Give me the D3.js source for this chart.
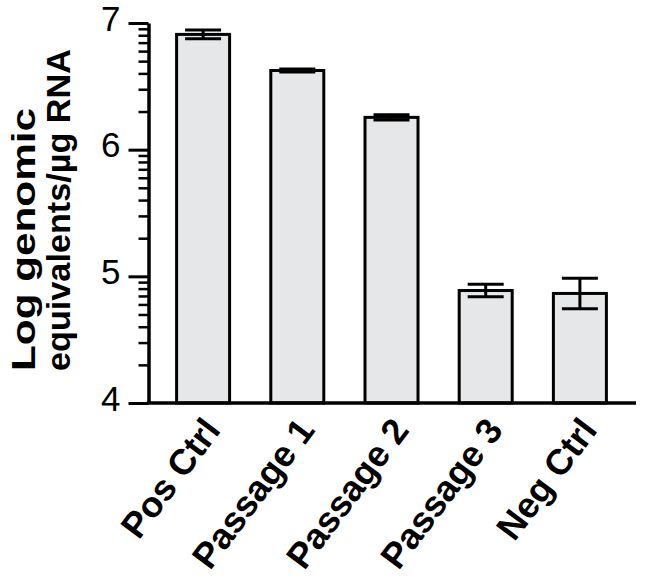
<!DOCTYPE html>
<html>
<head>
<meta charset="utf-8">
<script src="https://cdn.jsdelivr.net/npm/d3@7"></script>
<style>
  html, body { margin: 0; padding: 0; background: #fff; }
  svg { display: block; font-family: "Liberation Sans", Arial, Helvetica, sans-serif; }
</style>
</head>
<body>
<svg id="chart" width="645" height="584"></svg>
<script>
const categories = ["Pos Ctrl", "Passage 1", "Passage 2", "Passage 3", "Neg Ctrl"];
const meanValues = [6.91, 6.625, 6.255, 4.888, 4.865];
const errorValues = [0.035, 0.012, 0.02, 0.05, 0.12];
const yTickValues = [4, 5, 6, 7];
const yTitleLines = ["Log genomic", "equivalents/\u00b5g RNA"];

const svg = d3.select("#chart");
const axisX = 148.5, axisY = 403, yTop = 23, xRight = 636;

const y = d3.scaleLinear().domain([4, 7]).range([axisY, yTop]);
const x = d3.scaleBand().domain(categories).range([156, 627]).paddingInner(0.405).paddingOuter(0.2025);

// minor log ticks
const minorTicks = [];
for (let d = 4; d < 7; d++) for (let k = 2; k <= 9; k++) minorTicks.push(d + Math.log10(k));

const g = svg.append("g");

// bars
const barW = 53;
g.selectAll("rect.bar").data(categories).join("rect")
  .attr("class", "bar")
  .attr("x", d => x(d) + x.bandwidth() / 2 - barW / 2)
  .attr("y", (d, i) => y(meanValues[i]))
  .attr("width", barW)
  .attr("height", (d, i) => axisY - y(meanValues[i]))
  .attr("fill", "#e6e7e8")
  .attr("stroke", "#000")
  .attr("stroke-width", 3);

// error bars
const capW = 36;
categories.forEach((c, i) => {
  const cx = x(c) + x.bandwidth() / 2;
  const hi = y(meanValues[i] + errorValues[i]);
  const lo = y(meanValues[i] - errorValues[i]);
  g.append("line").attr("x1", cx).attr("x2", cx).attr("y1", hi).attr("y2", lo)
    .attr("stroke", "#000").attr("stroke-width", 3);
  [hi, lo].forEach(yy => g.append("line").attr("x1", cx - capW / 2).attr("x2", cx + capW / 2)
    .attr("y1", yy).attr("y2", yy).attr("stroke", "#000").attr("stroke-width", 3));
});

// y axis
const yAxis = d3.axisLeft(y).tickValues(yTickValues).tickFormat(d3.format("d")).tickSize(20).tickSizeOuter(0).tickPadding(8);
const ya = svg.append("g").attr("transform", `translate(${axisX},0)`).call(yAxis);
ya.select(".domain").attr("stroke-width", 3.5);
ya.selectAll(".tick line").attr("stroke-width", 3);
ya.selectAll(".tick text").attr("font-size", 35).attr("fill", "#000").attr("dy", "0.2em");
const yMinor = d3.axisLeft(y).tickValues(minorTicks).tickSize(10).tickFormat("").tickSizeOuter(0);
const ym = svg.append("g").attr("transform", `translate(${axisX},0)`).call(yMinor);
ym.select(".domain").remove();
ym.selectAll(".tick line").attr("stroke-width", 2.5);

// x axis line
svg.append("line").attr("x1", axisX - 1.75).attr("x2", xRight).attr("y1", axisY).attr("y2", axisY)
  .attr("stroke", "#000").attr("stroke-width", 3.5);

// x labels
svg.selectAll("text.xl").data(categories).join("text")
  .attr("class", "xl")
  .attr("transform", d => `translate(${x(d) + x.bandwidth() / 2 - 2},${415}) rotate(-53)`)
  .attr("text-anchor", "end")
  .attr("dy", "0.72em")
  .attr("font-size", 36)
  .attr("font-weight", "bold")
  .text(d => d);

// y title (two lines)
const titleLens = [263, 322];
const titleBase = [35, 70];
svg.selectAll("text.yt").data(yTitleLines).join("text")
  .attr("class", "yt")
  .attr("transform", (d, i) => `translate(${titleBase[i]},371) rotate(-90)`)
  .attr("text-anchor", "start")
  .attr("font-size", 34)
  .attr("font-weight", "bold")
  .attr("textLength", (d, i) => titleLens[i])
  .attr("lengthAdjust", "spacingAndGlyphs")
  .text(d => d);
</script>
</body>
</html>
